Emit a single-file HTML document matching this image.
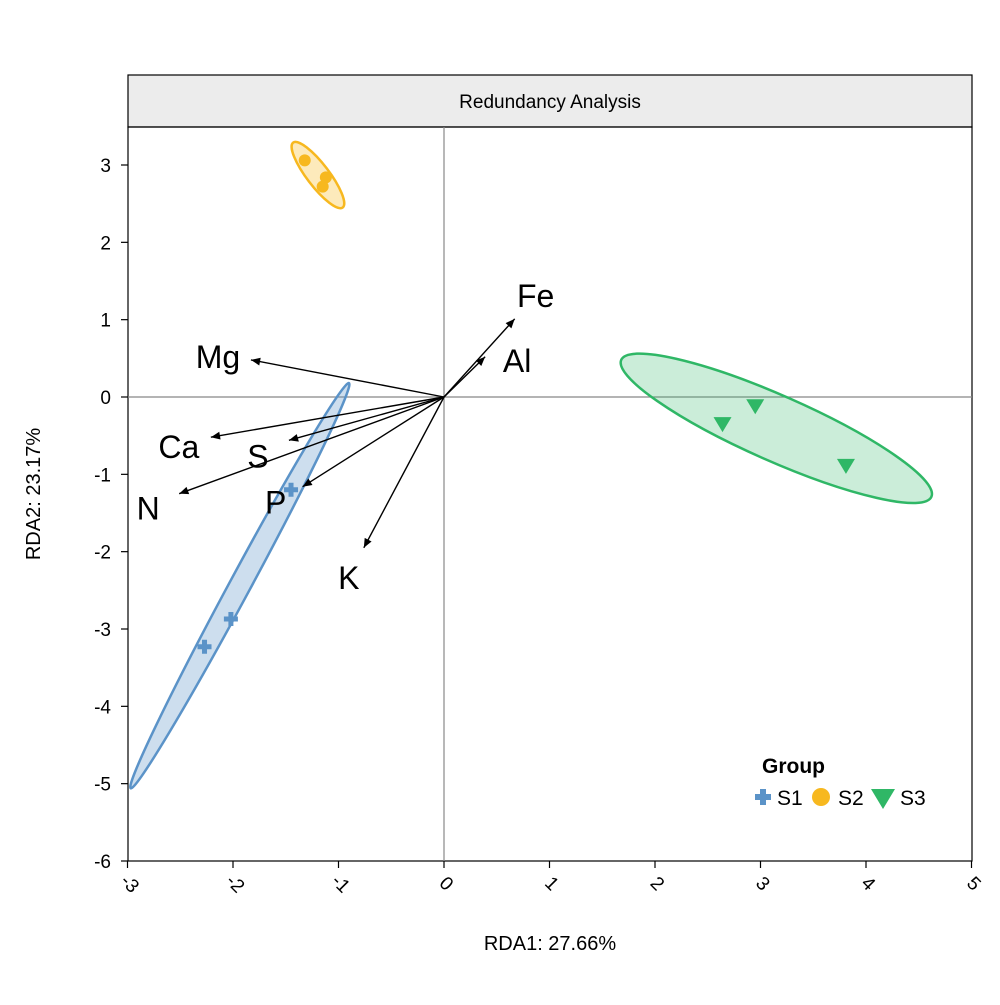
<!DOCTYPE html>
<html><head><meta charset="utf-8"><style>
body{margin:0;background:#fff;font-family:"Liberation Sans",sans-serif}
svg text{font-family:"Liberation Sans",sans-serif}
</style></head><body>
<svg id="chart" width="1000" height="1000" viewBox="0 0 1000 1000">
<rect x="128" y="75" width="844" height="52" fill="#ececec" stroke="#000" stroke-width="1.2"/>
<text x="550" y="108" font-size="19" text-anchor="middle">Redundancy Analysis</text>
<rect x="128" y="127" width="844" height="734" fill="none" stroke="#000" stroke-width="1.2"/>
<g id="g"></g>
<text x="550" y="950" font-size="20" text-anchor="middle">RDA1: 27.66%</text>
<text x="0" y="0" font-size="20" text-anchor="middle" transform="translate(40,494) rotate(-90)">RDA2: 23.17%</text>
<g>
<text x="762" y="773" font-size="21" font-weight="bold">Group</text>
<g><path d="M755 797h16M763 789v16" stroke="#5b93c8" stroke-width="6"/><text x="777" y="805" font-size="21">S1</text></g>
<g><circle cx="821" cy="797" r="9" fill="#f7b81f"/><text x="838" y="805" font-size="21">S2</text></g>
<g><path d="M871 789h24l-12 20z" fill="#2fb766"/><text x="900" y="805" font-size="21">S3</text></g>
</g>
</svg>
<script>
const xTicks=[-3,-2,-1,0,1,2,3,4,5];
const yTicks=[3,2,1,0,-1,-2,-3,-4,-5,-6];
const s1X=[-1.45,-2.02,-2.27], s1Y=[-1.20,-2.87,-3.23];
const s2X=[-1.32,-1.12,-1.15], s2Y=[3.06,2.84,2.72];
const s3X=[2.64,2.95,3.81], s3Y=[-0.35,-0.12,-0.89];
const envNames=["Mg","Ca","S","N","P","K","Fe","Al"];
const envX=[-1.83,-2.21,-1.47,-2.51,-1.34,-0.76,0.67,0.39];
const envY=[0.48,-0.52,-0.56,-1.25,-1.16,-1.95,1.01,0.52];
// ellipse major-axis endpoints (data units) and half-minor (data x-units)
const ellGroups=["s1","s2","s3"];
const ellX1=[-2.97,-1.43,1.68], ellY1=[-5.06,3.29,0.48];
const ellX2=[-0.90,-0.96,4.62], ellY2=[0.18,2.45,-1.29];
const ellMinor=[0.10,0.105,0.31];
const ellFill=["rgba(91,147,200,0.3)","rgba(247,184,31,0.3)","rgba(47,183,102,0.25)"];
const ellStroke=["#5b93c8","#f7b81f","#2fb766"];

const X=v=>444+v*105.5, Y=v=>397-v*77.333;
const NS="http://www.w3.org/2000/svg";
const g=document.getElementById('g');
function mk(t,a,p){const e=document.createElementNS(NS,t);for(const k in a)e.setAttribute(k,a[k]);(p||g).appendChild(e);return e;}

let e=mk('line',{x1:X(0),x2:X(0),y1:127,y2:861,stroke:'#888','stroke-width':1.2});


e=mk('line',{x1:128,x2:972,y1:Y(0),y2:Y(0),stroke:'#888','stroke-width':1.2});



xTicks.forEach(t=>{
  mk('line',{x1:X(t),x2:X(t),y1:861,y2:868,stroke:'#000','stroke-width':1.2});
  const tx=mk('text',{x:0,y:0,'font-size':19,'text-anchor':'middle',transform:`translate(${X(t)-2},${888}) rotate(45)`});
  tx.textContent=t;
  
  
});
yTicks.forEach(t=>{
  mk('line',{x1:121,x2:128,y1:Y(t),y2:Y(t),stroke:'#000','stroke-width':1.2});
  const tx=mk('text',{x:111,y:Y(t)+7,'font-size':19,'text-anchor':'end'});
  tx.textContent=t;
  
  
});

ellGroups.forEach((n,i)=>{
  const x1=X(ellX1[i]),y1=Y(ellY1[i]),x2=X(ellX2[i]),y2=Y(ellY2[i]);
  const cx=(x1+x2)/2,cy=(y1+y2)/2,rx=Math.hypot(x2-x1,y2-y1)/2;
  const ang=Math.atan2(y2-y1,x2-x1)*180/Math.PI;
  const el=mk('ellipse',{cx,cy,rx,ry:ellMinor[i]*105.5,transform:`rotate(${ang} ${cx} ${cy})`,fill:ellFill[i],stroke:ellStroke[i],'stroke-width':2.5});
  
  
});

s1X.forEach((v,i)=>{
  const x=X(v),y=Y(s1Y[i]);
  const p=mk('path',{d:`M${x-7} ${y}h14M${x} ${y-7}v14`,stroke:'#5b93c8','stroke-width':5});
  
  
});
s2X.forEach((v,i)=>{
  const p=mk('circle',{cx:X(v),cy:Y(s2Y[i]),r:6,fill:'#f7b81f'});
  
  
});
s3X.forEach((v,i)=>{
  const x=X(v),y=Y(s3Y[i]);
  const p=mk('path',{d:`M${x-9} ${y-7}h18l-9 15z`,fill:'#2fb766'});
  
  
});

const labOff={Mg:[-33,-3],Ca:[-32,10],S:[-31,16],N:[-31,15],P:[-27,16],K:[-15,30],Fe:[21,-23],Al:[32,4]};
envNames.forEach((n,i)=>{
  const x0=X(0),y0=Y(0),x=X(envX[i]),y=Y(envY[i]);
  const a=Math.atan2(y-y0,x-x0),L=10,w=0.4;
  const grp=mk('g',{});
  
  
  mk('line',{x1:x0,y1:y0,x2:x,y2:y,stroke:'#000','stroke-width':1.4},grp);
  mk('path',{d:`M${x} ${y}L${x-L*Math.cos(a-w)} ${y-L*Math.sin(a-w)}L${x-L*Math.cos(a+w)} ${y-L*Math.sin(a+w)}Z`,fill:'#000'},grp);
  const o=labOff[n];
  const t=mk('text',{x:x+o[0],y:y+o[1]+11,'font-size':32,'text-anchor':'middle'},grp);
  t.textContent=n;
});
</script>
</body></html>
